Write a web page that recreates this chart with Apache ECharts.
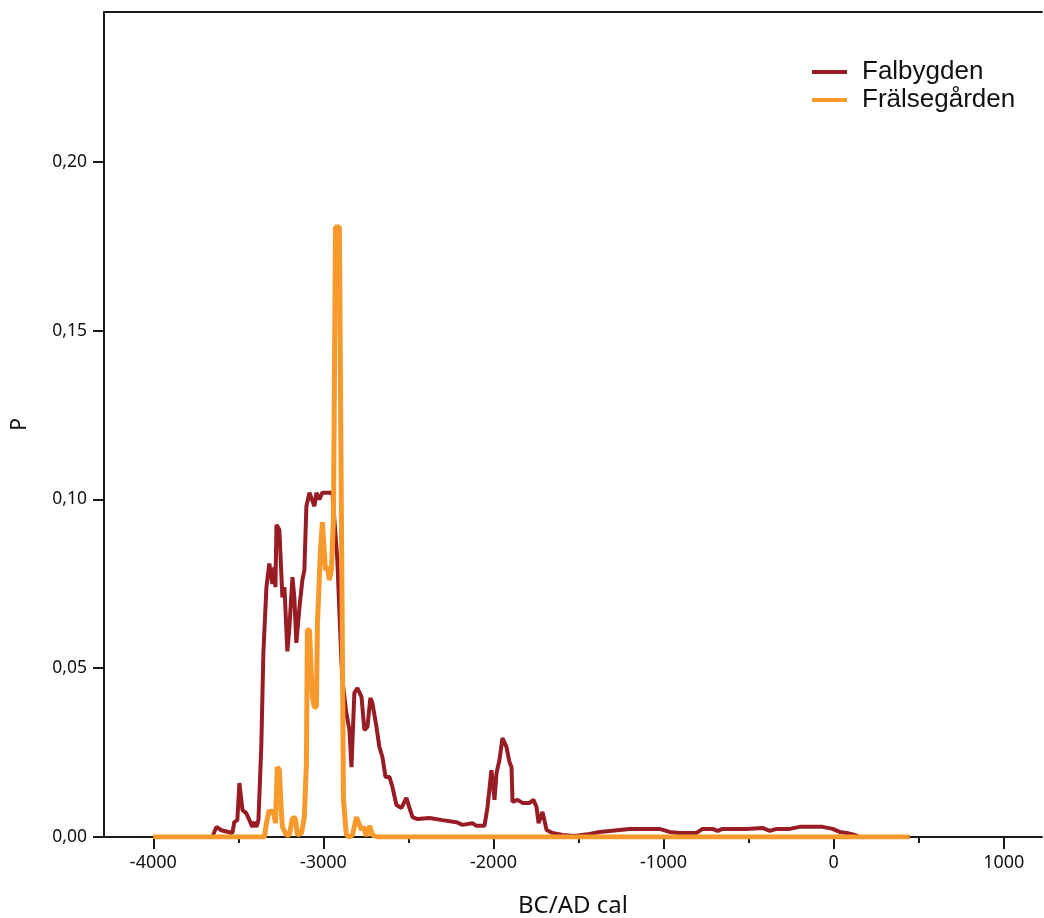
<!DOCTYPE html>
<html>
<head>
<meta charset="utf-8">
<title>Falbygden / Frälsegården</title>
<script src="https://cdn.jsdelivr.net/npm/echarts@6/dist/echarts.min.js"></script>
<style>
  html, body { margin: 0; padding: 0; background: #fff; }
  #chart { width: 1044px; height: 918px; }
</style>
</head>
<body>
<div id="chart"></div>
<script>
// summed probability (years BC/AD, P)
const falbygdenYears = [
  -4000, -3653, -3629, -3600, -3535, -3524, -3506, -3494, -3476, -3453, -3435, -3418, -3406, -3394, -3382,
  -3365, -3353, -3335, -3318, -3300, -3288, -3282, -3276, -3259, -3241, -3229, -3212, -3200, -3182, -3171,
  -3159, -3141, -3124, -3112, -3100, -3082, -3071, -3053, -3041, -3024, -3006, -2976, -2947, -2918, -2894,
  -2888, -2865, -2847, -2835, -2818, -2800, -2776, -2759, -2741, -2724, -2712, -2688, -2671, -2653, -2635,
  -2612, -2594, -2571, -2541, -2512, -2494, -2476, -2447, -2376, -2300, -2218, -2182, -2124, -2100, -2053,
  -2035, -2012, -1994, -1982, -1965, -1947, -1924, -1906, -1894, -1888, -1859, -1829, -1788, -1765, -1747,
  -1735, -1712, -1688, -1653, -1594, -1524, -1435, -1376, -1259, -1200, -1100, -1024, -965, -906, -806,
  -771, -712, -682, -653, -512, -418, -376, -335, -259, -200, -65, -6, 35, 76, 124, 153, 447
];
const falbygdenP = [
  0, 0, 0.003, 0.002, 0.0012, 0.0044, 0.005, 0.016, 0.008, 0.007, 0.005, 0.003, 0.0044, 0.003, 0.005,
  0.027, 0.0545, 0.074, 0.081, 0.075, 0.080, 0.074, 0.0925, 0.091, 0.071, 0.074, 0.055, 0.062, 0.077, 0.071,
  0.0575, 0.068, 0.076, 0.079, 0.098, 0.102, 0.102, 0.098, 0.102, 0.100, 0.102, 0.102, 0.102, 0.082, 0.052,
  0.0465, 0.0367, 0.0317, 0.0207, 0.0427, 0.0441, 0.0415, 0.0317, 0.0326, 0.0412, 0.0397, 0.0326, 0.0267, 0.0237, 0.0178,
  0.0178, 0.0148, 0.0095, 0.0086, 0.0116, 0.0086, 0.0059, 0.0053, 0.0056, 0.005, 0.0044, 0.0036, 0.0041, 0.0033, 0.0033,
  0.0089, 0.0198, 0.011, 0.019, 0.0228, 0.0293, 0.0267, 0.0222, 0.0207, 0.0104, 0.011, 0.0101, 0.0101, 0.011, 0.0089,
  0.0041, 0.0074, 0.0021, 0.0012, 0.0006, 0.0003, 0.0009, 0.0015, 0.0021, 0.0024, 0.0024, 0.0024, 0.0015, 0.0012, 0.0012,
  0.0024, 0.0024, 0.0018, 0.0024, 0.0024, 0.0027, 0.0018, 0.0024, 0.0024, 0.003, 0.003, 0.0024, 0.0015, 0.0012, 0.0006, 0, 0
];

const fralsegardenYears = [
  -4000, -3347, -3335, -3318, -3306, -3294, -3282, -3271, -3259, -3247, -3241, -3218, -3200, -3182, -3165,
  -3153, -3129, -3112, -3100, -3094, -3082, -3065, -3053, -3041, -3035, -3018, -3006, -2988, -2976, -2965,
  -2953, -2941, -2929, -2906, -2894, -2882, -2865, -2847, -2829, -2806, -2794, -2776, -2765, -2747, -2729,
  -2712, -2682, 447
];
const fralsegardenP = [
  0, 0, 0.0041, 0.008, 0.007, 0.008, 0.0041, 0.0207, 0.0199, 0.0071, 0.003, 0.0006, 0.0006, 0.0056, 0.0056,
  0.0006, 0.0012, 0.0059, 0.0219, 0.0613, 0.0613, 0.0415, 0.0385, 0.0385, 0.0634, 0.0842, 0.0933, 0.0791, 0.08, 0.0761,
  0.0791, 0.0939, 0.1807, 0.1807, 0.094, 0.011, 0.0006, 0, 0.0006, 0.0059, 0.0044, 0.0021, 0.003, 0.0003, 0.0033,
  0.0006, 0, 0
];

const xMajorTicks = [-4000, -3000, -2000, -1000, 0, 1000];
const xMinorTicks = [-3500, -2500, -1500, -500, 500];
const yTicks = [0, 0.05, 0.10, 0.15, 0.20];

const xMin = -4290, xMax = 1225;
const yMin = 0, yMax = 0.2444;

const zip = (xs, ys) => xs.map((x, i) => [x, ys[i]]);

const chart = echarts.init(document.getElementById('chart'));
const axisColor = '#1a1a1a';
const labelFont = 'Noto Sans';

let option = {
  animation: false,
  backgroundColor: '#fff',
  grid: { left: 104, right: 2, top: 12, bottom: 81, outerBoundsMode: 'none', containLabel: false },
  legend: {
    orient: 'vertical',
    left: 812,
    top: 59,
    padding: 0,
    itemGap: 2,
    icon: 'rect',
    itemWidth: 35,
    itemHeight: 4,
    textStyle: {
      fontFamily: 'Liberation Sans',
      fontSize: 26,
      lineHeight: 26,
      color: '#111',
      padding: [0, 0, 0, 10]
    },
    data: ['Falbygden', 'Frälsegården']
  },
  xAxis: [
    {
      type: 'value',
      min: xMin,
      max: xMax,
      position: 'bottom',
      name: 'BC/AD cal',
      nameLocation: 'middle',
      nameGap: 57,
      nameTextStyle: { fontFamily: labelFont, fontSize: 24, color: '#111' },
      splitLine: { show: false },
      axisLine: { show: true, onZero: false, lineStyle: { color: axisColor, width: 2 } },
      axisTick: {
        show: true, inside: false, length: 12,
        customValues: xMajorTicks,
        lineStyle: { color: axisColor, width: 2 }
      },
      axisLabel: {
        customValues: xMajorTicks,
        margin: 17,
        fontFamily: labelFont,
        fontSize: 18,
        color: '#111',
        formatter: v => String(v)
      }
    },
    {
      type: 'value',
      min: xMin,
      max: xMax,
      position: 'bottom',
      splitLine: { show: false },
      axisLine: { show: false, onZero: false },
      axisTick: {
        show: true, length: 6,
        customValues: xMinorTicks,
        lineStyle: { color: axisColor, width: 2 }
      },
      axisLabel: { show: false }
    },
    {
      type: 'value',
      min: xMin,
      max: xMax,
      position: 'top',
      splitLine: { show: false },
      axisLine: { show: true, onZero: false, lineStyle: { color: axisColor, width: 2 } },
      axisTick: { show: false },
      axisLabel: { show: false }
    }
  ],
  yAxis: {
    type: 'value',
    min: yMin,
    max: yMax,
    position: 'left',
    name: 'P',
    nameLocation: 'middle',
    nameGap: 73,
    nameRotate: 90,
    nameTextStyle: { fontFamily: labelFont, fontSize: 21, color: '#111' },
    splitLine: { show: false },
    axisLine: { show: true, onZero: false, lineStyle: { color: axisColor, width: 2 } },
    axisTick: {
      show: true, length: 11,
      customValues: yTicks,
      lineStyle: { color: axisColor, width: 2 }
    },
    axisLabel: {
      customValues: yTicks,
      margin: 17,
      fontFamily: labelFont,
      fontSize: 17.5,
      color: '#111',
      formatter: v => v.toFixed(2).replace('.', ',')
    }
  },
  series: [
    {
      name: 'Falbygden',
      type: 'line',
      xAxisIndex: 0,
      symbol: 'none',
      color: '#981c24',
      lineStyle: { width: 4, color: '#981c24' },
      data: zip(falbygdenYears, falbygdenP)
    },
    {
      name: 'Frälsegården',
      type: 'line',
      xAxisIndex: 0,
      symbol: 'none',
      color: '#f7992b',
      lineStyle: { width: 5, color: '#f7992b' },
      data: zip(fralsegardenYears, fralsegardenP)
    }
  ]
};

chart.setOption(option);
</script>
</body>
</html>
